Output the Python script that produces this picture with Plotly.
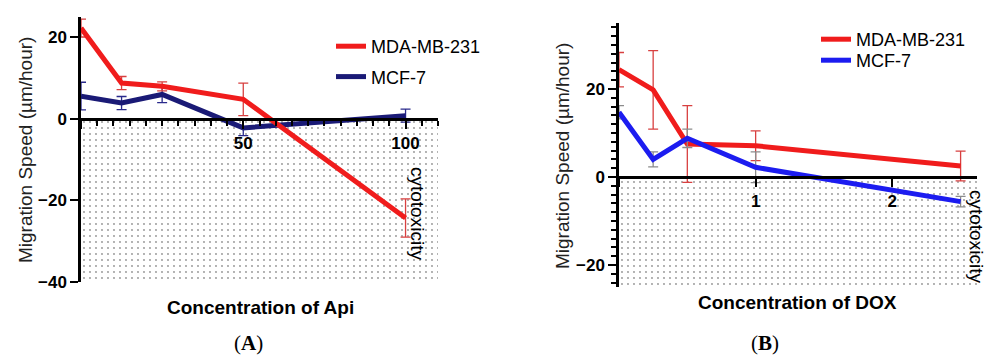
import plotly.graph_objects as go

# ---------------- data ----------------
series_names = ["MDA-MB-231", "MCF-7"]

api_conc = [0, 12.5, 25, 50, 100]
api_mda = [22.3, 8.8, 8.0, 4.8, -24.3]
api_mda_err = [2.2, 1.6, 1.1, 4.0, 4.7]
api_mcf = [5.6, 3.9, 6.0, -2.2, 0.8]
api_mcf_err = [3.4, 1.6, 2.0, 1.9, 1.6]

dox_conc = [0, 0.25, 0.5, 1, 2.5]
dox_mda = [24.4, 19.8, 7.5, 7.1, 2.5]
dox_mda_err = [3.9, 8.9, 8.7, 3.4, 3.4]
dox_mcf = [14.7, 4.0, 8.8, 2.2, -5.6]
dox_mcf_err = [1.5, 1.7, 2.1, 3.5, 1.2]

api_yticks = [-40, -20, 0, 20]
api_xrange = [0, 110]
api_yrange = [-40, 25]
dox_xrange = [0, 2.62]
dox_yrange = [-25, 35]

y_title = "Migration Speed (µm/hour)"
api_xtitle = "Concentration of Api"
dox_xtitle = "Concentration of DOX"
shade_label = "cytotoxicity"
panel_labels = ["(<b>A</b>)", "(<b>B</b>)"]

# ---------------- layout geometry ----------------
W, H = 993, 356
A_dom_x = [81 / W, 438 / W]
A_dom_y = [(H - 282) / H, (H - 17) / H]
B_dom_x = [619 / W, 977 / W]
B_dom_y = [(H - 287) / H, (H - 23) / H]


def zero_pos(dom, rng):
    return dom[0] + (0 - rng[0]) / (rng[1] - rng[0]) * (dom[1] - dom[0])


RED = "#f01c1c"
NAVY = "#1a1a76"
BLUE = "#1c1cf0"
FONT = "Liberation Sans, Arial, sans-serif"

fig = go.Figure()

pattern = dict(shape=".", size=6, solidity=0.07, fgcolor="#222222", bgcolor="white")

# shaded cytotoxicity regions
fig.add_trace(go.Scatter(
    x=[api_xrange[0], api_xrange[1], api_xrange[1], api_xrange[0]],
    y=[0, 0, api_yrange[0], api_yrange[0]],
    fill="toself", fillcolor="white", fillpattern=pattern,
    mode="lines", line=dict(width=0), hoverinfo="skip", showlegend=False,
    xaxis="x", yaxis="y"))
fig.add_trace(go.Scatter(
    x=[dox_xrange[0], dox_xrange[1], dox_xrange[1], dox_xrange[0]],
    y=[0, 0, dox_yrange[0], dox_yrange[0]],
    fill="toself", fillcolor="white", fillpattern=pattern,
    mode="lines", line=dict(width=0), hoverinfo="skip", showlegend=False,
    xaxis="x2", yaxis="y2"))

# Panel A (MCF-7 drawn first, under red)
fig.add_trace(go.Scatter(
    x=api_conc, y=api_mcf, name=series_names[1], mode="lines",
    line=dict(color=NAVY, width=5),
    error_y=dict(type="data", array=api_mcf_err, color="#2a2a8c", thickness=1.3, width=5),
    xaxis="x", yaxis="y", legend="legend", legendgroup="a2", legendrank=2))
fig.add_trace(go.Scatter(
    x=api_conc, y=api_mda, name=series_names[0], mode="lines",
    line=dict(color=RED, width=5),
    error_y=dict(type="data", array=api_mda_err, color="#d84040", thickness=1.3, width=5),
    xaxis="x", yaxis="y", legend="legend", legendgroup="a1", legendrank=1))

# Panel B
fig.add_trace(go.Scatter(
    x=dox_conc, y=dox_mda, name=series_names[0], mode="lines",
    line=dict(color=RED, width=5),
    error_y=dict(type="data", array=dox_mda_err, color="#d84040", thickness=1.3, width=5),
    xaxis="x2", yaxis="y2", legend="legend2"))
fig.add_trace(go.Scatter(
    x=dox_conc, y=dox_mcf, name=series_names[1], mode="lines",
    line=dict(color=BLUE, width=5),
    error_y=dict(type="data", array=dox_mcf_err, color="#8c8c8c", thickness=1.3, width=5),
    xaxis="x2", yaxis="y2", legend="legend3"))

tickfont = dict(family=FONT, size=17, color="black", weight="bold")

common = dict(showgrid=False, zeroline=False, showline=True, linecolor="black",
              linewidth=2.5, ticks="outside", ticklen=8, tickwidth=2, tickcolor="black",
              tickfont=tickfont, fixedrange=True, automargin=False)

legfont = dict(family=FONT, size=18, color="black")

fig.update_layout(
    width=W, height=H,
    margin=dict(l=0, r=0, t=0, b=0, autoexpand=False),
    paper_bgcolor="white", plot_bgcolor="rgba(0,0,0,0)",
    font=dict(family=FONT, color="black"),
    xaxis=dict(common, domain=A_dom_x, range=api_xrange, tickmode="linear",
               tick0=0, dtick=50, labelalias={"0": " "}, anchor="free",
               position=zero_pos(A_dom_y, api_yrange),
               minor=dict(dtick=5, tick0=0, ticks="outside",
                          ticklen=5, tickwidth=1.8, tickcolor="black")),
    yaxis=dict(common, domain=A_dom_y, range=api_yrange, tickmode="array",
               tickvals=api_yticks, anchor="x"),
    xaxis2=dict(common, domain=B_dom_x, range=dox_xrange, tickmode="linear",
                tick0=0, dtick=1, labelalias={"0": " "}, anchor="free",
                position=zero_pos(B_dom_y, dox_yrange)),
    yaxis2=dict(common, domain=B_dom_y, range=dox_yrange, tickmode="linear",
                tick0=0, dtick=20, anchor="x2",
                minor=dict(dtick=2, tick0=0, ticks="outside",
                           ticklen=5, tickwidth=1.8, tickcolor="black")),
    legend=dict(x=331 / W, y=(H - 28) / H, xanchor="left", yanchor="top",
                bgcolor="rgba(0,0,0,0)", font=legfont,
                tracegroupgap=4, traceorder="grouped", itemwidth=30),
    legend2=dict(x=816 / W, y=(H - 21) / H, xanchor="left", yanchor="top",
                 bgcolor="rgba(0,0,0,0)", font=legfont, itemwidth=30),
    legend3=dict(x=816 / W, y=(H - 42) / H, xanchor="left", yanchor="top",
                 bgcolor="rgba(0,0,0,0)", font=legfont, itemwidth=30),
    showlegend=True,
)

ann = []
ann.append(dict(text=y_title, x=25 / W, y=(H - 150) / H, textangle=-90,
                font=dict(family=FONT, size=19, color="#222222")))
ann.append(dict(text=y_title, x=562 / W, y=(H - 156) / H, textangle=-90,
                font=dict(family=FONT, size=19, color="#222222")))
ann.append(dict(text=api_xtitle, x=260 / W, y=(H - 307) / H,
                font=dict(family=FONT, size=19, color="black", weight="bold")))
ann.append(dict(text=dox_xtitle, x=797 / W, y=(H - 302) / H,
                font=dict(family=FONT, size=19, color="black", weight="bold")))
ann.append(dict(text=panel_labels[0], x=248 / W, y=(H - 343) / H,
                font=dict(family="Liberation Serif, Times New Roman, serif", size=21, color="black")))
ann.append(dict(text=panel_labels[1], x=765 / W, y=(H - 343) / H,
                font=dict(family="Liberation Serif, Times New Roman, serif", size=21, color="black")))
ann.append(dict(text=shade_label, x=418 / W, y=(H - 213) / H, textangle=90,
                font=dict(family=FONT, size=19, color="black")))
ann.append(dict(text=shade_label, x=977 / W, y=(H - 236) / H, textangle=90,
                font=dict(family=FONT, size=19, color="black")))
for a in ann:
    a.update(xref="paper", yref="paper", showarrow=False, xanchor="center", yanchor="middle")
fig.update_layout(annotations=ann)

# remove the default 8px page margin so the figure fills the window exactly
fig.write_html("out.html", config={"displayModeBar": False},
               post_script="document.body.style.margin='0px';")
